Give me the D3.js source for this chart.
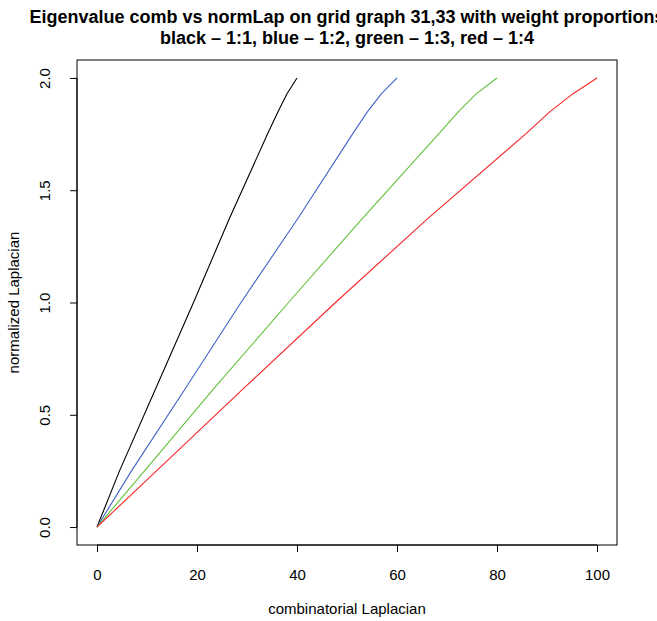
<!DOCTYPE html>
<html>
<head>
<meta charset="utf-8">
<script src="https://cdn.jsdelivr.net/npm/d3@7"></script>
<style>
  html, body { margin: 0; padding: 0; background: #fff; }
  svg text { font-family: "Liberation Sans", Arial, Helvetica, sans-serif; fill: #000; }
</style>
</head>
<body>
<svg id="chart" width="657" height="621"></svg>
<script>
// Sorted eigenvalues: normalized Laplacian level and the matching combinatorial value
const normLevels = [0, 0.25, 0.625, 1.0, 1.375, 1.75, 1.85, 1.93, 2.0];
const combBlack  = [0, 4.5, 11.9, 19.3, 26.5, 34.1, 36.2, 38.0, 40];
const combBlue   = [0, 6.9, 17.9, 28.8, 40.2, 51.1, 54.1, 56.9, 60];
const combGreen  = [0, 9.5, 23.7, 38.3, 53.1, 68.3, 72.3, 75.9, 80];
const combRed    = [0, 11.9, 29.7, 47.7, 66.2, 85.7, 90.6, 95.2, 100];

const seriesNames  = ["1:1", "1:2", "1:3", "1:4"];
const seriesColors = ["#000000", "#3f62c6", "#62c23c", "#f52525"];
const seriesComb   = [combBlack, combBlue, combGreen, combRed];

const xTicks = [0, 20, 40, 60, 80, 100];
const yTicks = [0, 0.5, 1.0, 1.5, 2.0];

const titleLines = [
  "Eigenvalue comb vs normLap on grid graph 31,33 with weight proportions",
  "black \u2013 1:1, blue \u2013 1:2, green \u2013 1:3, red \u2013 1:4"
];
const xTitle = "combinatorial Laplacian";
const yTitle = "normalized Laplacian";

const svg = d3.select("#chart");
const box = { left: 77, right: 617, top: 60, bottom: 545 };
const labelFont = 15;

// R-style 4% padding around the data range
const x = d3.scaleLinear().domain([-4, 104]).range([box.left, box.right]);
const y = d3.scaleLinear().domain([-0.08, 2.08]).range([box.bottom, box.top]);

// curves
const line = d3.line().x(d => x(d[0])).y(d => y(d[1]));
seriesComb.forEach((comb, i) => {
  const pts = comb.map((c, k) => [c, normLevels[k]]);
  svg.append("path")
    .datum(pts)
    .attr("d", line)
    .attr("fill", "none")
    .attr("stroke", seriesColors[i])
    .attr("stroke-width", 1.1)
    .attr("stroke-linejoin", "round")
    .attr("class", "series-" + seriesNames[i].replace(":", "-"));
});

// frame
svg.append("rect")
  .attr("x", box.left).attr("y", box.top)
  .attr("width", box.right - box.left).attr("height", box.bottom - box.top)
  .attr("fill", "none").attr("stroke", "#000").attr("stroke-width", 1);

// axes
const xAxis = d3.axisBottom(x).tickValues(xTicks).tickSize(7).tickPadding(17)
  .tickFormat(d3.format("d"));
const gx = svg.append("g").attr("transform", `translate(0,${box.bottom})`).call(xAxis);
gx.select(".domain").attr("d", `M${x(0)},0H${x(100)}`);
gx.selectAll("text").attr("font-size", labelFont).attr("font-family", "Liberation Sans, Arial, sans-serif");

const yAxis = d3.axisLeft(y).tickValues(yTicks).tickSize(7).tickPadding(0)
  .tickFormat(d3.format(".1f"));
const gy = svg.append("g").attr("transform", `translate(${box.left},0)`).call(yAxis);
gy.select(".domain").attr("d", `M0,${y(0)}V${y(2)}`);
gy.selectAll("text")
  .attr("font-size", labelFont)
  .attr("font-family", "Liberation Sans, Arial, sans-serif")
  .attr("text-anchor", "middle")
  .attr("x", null).attr("dy", null)
  .attr("transform", "translate(-27,0) rotate(-90)")
  .attr("y", 0);

// titles (the first line runs past the right edge of the page, as R draws it)
const cx = (box.left + box.right) / 2;
svg.append("text").attr("x", cx).attr("y", 23)
  .attr("text-anchor", "middle").attr("font-weight", "bold").attr("font-size", 18)
  .text(titleLines[0]);
svg.append("text").attr("x", cx).attr("y", 44)
  .attr("text-anchor", "middle").attr("font-weight", "bold").attr("font-size", 18)
  .text(titleLines[1]);

svg.append("text").attr("x", cx).attr("y", 614)
  .attr("text-anchor", "middle").attr("font-size", labelFont).text(xTitle);

svg.append("text")
  .attr("transform", `translate(19,${(box.top + box.bottom) / 2}) rotate(-90)`)
  .attr("text-anchor", "middle").attr("font-size", labelFont).text(yTitle);
</script>
</body>
</html>
